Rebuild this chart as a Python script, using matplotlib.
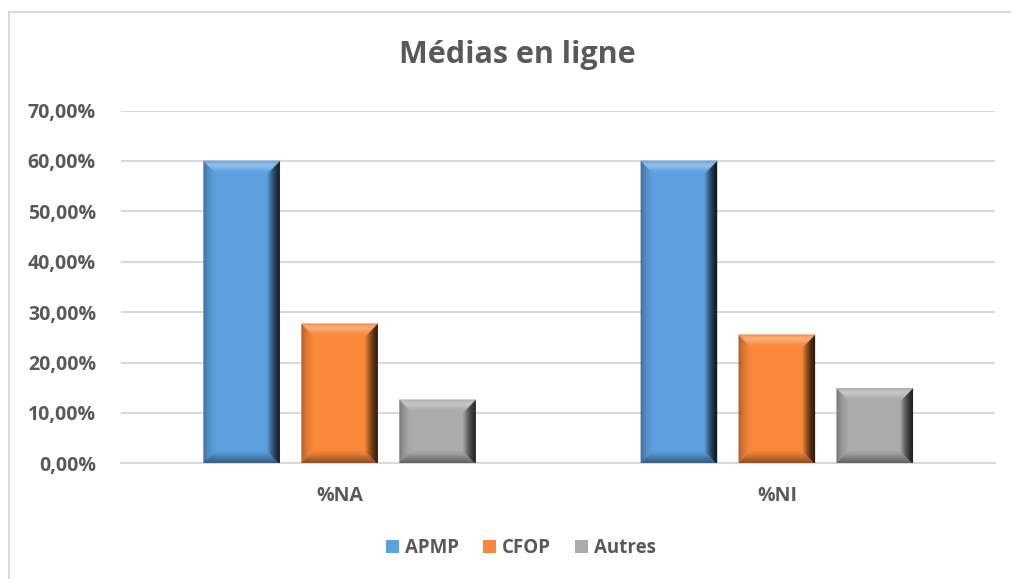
import numpy as np
import matplotlib.pyplot as plt
from matplotlib.patches import Polygon, Rectangle
from matplotlib.colors import to_rgb
from matplotlib.ticker import FuncFormatter

plt.rcParams['font.family'] = ['Open Sans', 'DejaVu Sans']

# data
categories = ['%NA', '%NI']
series = ['APMP', 'CFOP', 'Autres']
values = {
    'APMP': [60.0, 60.0],
    'CFOP': [27.7, 25.5],
    'Autres': [12.6, 14.9],
}
colors = {'APMP': '#5DA0DF', 'CFOP': '#F9883A', 'Autres': '#ABABAB'}

text_col = '#595959'
grid_col = '#D9D9D9'

# shading profile of each bevel side, from outer edge to inner edge
profiles = {
    'left': [0.68, 0.78, 0.86, 0.92, 0.97, 1.0],
    'bottom': [0.5, 0.6, 0.7, 0.8, 0.9, 0.98],
    'right': [0.15, 0.22, 0.35, 0.5, 0.7, 0.92],
    'top': [1.0, 1.25, 1.35, 1.22, 1.08, 1.0],
}


def shade(c, f):
    r = np.array(to_rgb(c))
    if f >= 1:
        return tuple(r + (1 - r) * (f - 1))
    return tuple(r * f)


def bevel(ax, patch, col, px=12):
    # bevel frame on a bar, size in pixels
    x0, y0 = patch.get_x(), patch.get_y()
    x1, y1 = x0 + patch.get_width(), y0 + patch.get_height()
    inv = ax.transData.inverted()
    (X0, Y0), (X1, Y1) = ax.transData.transform([(x0, y0), (x1, y1)])
    b = min(px, (X1 - X0) / 2, (Y1 - Y0) / 2)
    outer = [(X0, Y0), (X1, Y0), (X1, Y1), (X0, Y1)]
    inner = [(X0 + b, Y0 + b), (X1 - b, Y0 + b), (X1 - b, Y1 - b), (X0 + b, Y1 - b)]
    faces = [
        ('left', [outer[3], outer[0], inner[0], inner[3]]),
        ('bottom', [outer[0], outer[1], inner[1], inner[0]]),
        ('right', [outer[1], outer[2], inner[2], inner[1]]),
        ('top', [outer[2], outer[3], inner[3], inner[2]]),
    ]
    n = 12
    for name, pts in faces:
        p = np.array(pts)
        prof = profiles[name]
        for k in range(n):
            t0, t1 = k / n, (k + 1) / n
            a0 = p[0] + (p[3] - p[0]) * t0
            b0 = p[1] + (p[2] - p[1]) * t0
            a1 = p[0] + (p[3] - p[0]) * t1
            b1 = p[1] + (p[2] - p[1]) * t1
            f = np.interp((t0 + t1) / 2, np.linspace(0, 1, len(prof)), prof)
            poly = inv.transform([a0, b0, b1, a1])
            ax.add_patch(Polygon(poly, closed=True, facecolor=shade(col, f),
                                 edgecolor=shade(col, f), linewidth=0.3, zorder=3))


fig = plt.figure(figsize=(10.11, 5.79), dpi=100)
ax = fig.add_axes([121 / 1011, 1 - 463.3 / 579, (995.5 - 121) / 1011, (463.3 - 110.5) / 579])

x = np.arange(len(categories))
width = 0.174
step = 0.224
handles = []
for i, s in enumerate(series):
    bars = ax.bar(x + (i - 1) * step, values[s], width, color=colors[s], zorder=2,
                  label=s, edgecolor='none')
    handles.append(bars)

ax.set_xlim(-0.5, 1.5)
ax.set_ylim(0, 70)
for s, bars in zip(series, handles):
    for p in bars:
        bevel(ax, p, colors[s])

ax.set_yticks(np.arange(0, 71, 10))
ax.yaxis.set_major_formatter(FuncFormatter(lambda v, _: f'{v:.2f}%'.replace('.', ',')))
ax.set_xticks(x)
ax.set_xticklabels(categories)
ax.grid(axis='y', color=grid_col, linewidth=1.5, zorder=0)
ax.set_axisbelow(True)
for side in ['top', 'right', 'left']:
    ax.spines[side].set_visible(False)
ax.spines['bottom'].set_color(grid_col)
ax.spines['bottom'].set_linewidth(1.5)
ax.tick_params(length=0, labelsize=14, labelcolor=text_col)
ax.tick_params(axis='x', pad=16)
ax.tick_params(axis='y', pad=18)
for lab in ax.get_xticklabels() + ax.get_yticklabels():
    lab.set_fontweight('bold')

fig.text(517 / 1011, 1 - 55 / 579, 'Médias en ligne', ha='center', va='center',
         fontsize=22, fontweight='bold', color=text_col)

leg = fig.legend(handles=handles, labels=series, loc='center', bbox_to_anchor=(521 / 1011, 1 - 548 / 579),
                 ncol=3, frameon=False, handlelength=0.7, handleheight=0.7, handletextpad=0.3,
                 columnspacing=1.3, prop={'weight': 'bold', 'size': 13.5})
for t in leg.get_texts():
    t.set_color(text_col)

# outer chart border
fig.add_artist(Rectangle((8.5 / 1011, -0.1), 1.2, 1 - 11.5 / 579 + 0.1, transform=fig.transFigure,
                         fill=False, edgecolor=grid_col, linewidth=1.5))

fig.savefig('out.png', dpi=100)
